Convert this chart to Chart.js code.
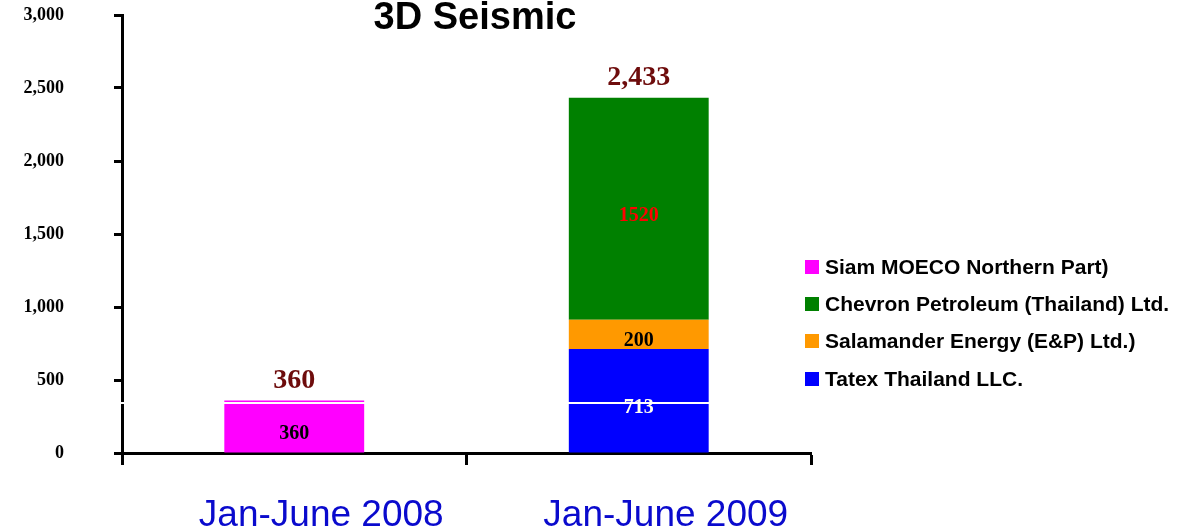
<!DOCTYPE html>
<html>
<head>
<meta charset="utf-8">
<script src="https://cdn.jsdelivr.net/npm/chart.js@4"></script>
<style>
  html, body { margin: 0; padding: 0; background: #fff; }
  #wrap { position: relative; width: 1194px; height: 531px; }
  #legend { position: absolute; left: 805px; top: 248px; font: bold 21px "Liberation Sans", Arial, sans-serif; color: #000; }
  .row { height: 37.3px; display: flex; align-items: center; white-space: nowrap; }
  .sw { width: 14px; height: 14px; margin-right: 6px; flex: none; }
</style>
</head>
<body>
<div id="wrap">
  <canvas id="chart" width="1194" height="531"></canvas>
  <div id="legend"></div>
</div>
<script>
// data
const periods = ["Jan-June 2008", "Jan-June 2009"];
const tatex = [0, 713];
const salamander = [0, 200];
const chevron = [0, 1520];
const siam = [360, 0];
const totals = [360, 2433];
const yTicks = [0, 500, 1000, 1500, 2000, 2500, 3000];

const datasets = [
  { label: "Tatex Thailand LLC.", data: tatex, backgroundColor: "#0000ff", labelColor: "#fffff0" },
  { label: "Salamander Energy (E&P) Ltd.)", data: salamander, backgroundColor: "#ff9900", labelColor: "#000" },
  { label: "Chevron Petroleum (Thailand) Ltd.", data: chevron, backgroundColor: "#008000", labelColor: "#ff0000" },
  { label: "Siam MOECO Northern Part)", data: siam, backgroundColor: "#ff00ff", labelColor: "#000" },
];

// legend, top to bottom is reverse of the stack
const legend = document.getElementById("legend");
datasets.slice().reverse().forEach((ds) => {
  const row = document.createElement("div");
  row.className = "row";
  row.innerHTML = '<span class="sw" style="background:' + ds.backgroundColor + '"></span><span></span>';
  row.lastChild.textContent = ds.label;
  legend.appendChild(row);
});

const barLabels = {
  id: "barLabels",
  afterDatasetsDraw(chart) {
    const ctx = chart.ctx;
    ctx.save();
    ctx.textAlign = "center";
    ctx.textBaseline = "middle";
    ctx.font = "bold 20px 'Liberation Serif', serif";
    chart.data.datasets.forEach((ds, i) => {
      chart.getDatasetMeta(i).data.forEach((bar, j) => {
        const v = ds.data[j];
        if (!v) return;
        ctx.fillStyle = ds.labelColor;
        ctx.fillText(String(v), bar.x, (bar.y + bar.base) / 2 + 7);
      });
    });

    // totals above the stacks
    const y = chart.scales.y;
    ctx.font = "bold 28px 'Liberation Serif', serif";
    ctx.fillStyle = "#6e0c0c";
    totals.forEach((t, j) => {
      const x = chart.getDatasetMeta(0).data[j].x;
      ctx.fillText(t.toLocaleString("en-US"), x, y.getPixelForValue(t) - 20);
    });
    ctx.restore();
  },
  afterDraw(chart) {
    const ctx = chart.ctx;
    ctx.save();
    // thin white line that cuts across the plot in the original
    const ly = Math.round(chart.scales.y.getPixelForValue(342));
    ctx.fillStyle = "#fff";
    ctx.fillRect(110, ly - 1, 702, 2);
    // title
    ctx.font = "bold 38px 'Liberation Sans', Arial, sans-serif";
    ctx.fillStyle = "#000";
    ctx.textAlign = "center";
    ctx.textBaseline = "middle";
    ctx.fillText("3D Seismic", 475, 19);
    ctx.restore();
  },
};

new Chart(document.getElementById("chart"), {
  type: "bar",
  data: {
    labels: periods,
    datasets: datasets,
  },
  options: {
    responsive: false,
    animation: false,
    devicePixelRatio: 1,
    layout: { padding: { top: 15, right: 383, left: 0, bottom: 0 } },
    datasets: { bar: { categoryPercentage: 1, barPercentage: 0.406 } },
    plugins: {
      legend: { display: false },
      title: { display: false },
      tooltip: { enabled: false },
    },
    scales: {
      x: {
        stacked: true,
        grid: { offset: true, drawOnChartArea: false, tickLength: 12, tickWidth: 3, tickColor: "#000" },
        border: { color: "#000", width: 3 },
        ticks: {
          color: "#0a0acd",
          font: { family: "'Liberation Sans', Arial, sans-serif", size: 37 },
          padding: 29,
          labelOffset: 27,
          maxRotation: 0,
        },
        afterFit: (s) => { s.height = 78; },
      },
      y: {
        stacked: true,
        min: 0,
        max: 3000,
        afterBuildTicks: (s) => { s.ticks = yTicks.map((v) => ({ value: v })); },
        grid: { drawOnChartArea: false, tickLength: 8, tickWidth: 3, tickColor: "#000" },
        border: { color: "#000", width: 3 },
        ticks: {
          color: "#000",
          font: { family: "'Liberation Serif', serif", size: 18, weight: "bold" },
          padding: 50,
          callback: (v) => Number(v).toLocaleString("en-US"),
        },
        afterFit: (s) => {
          s.width = 122;
          s.paddingTop = 0;
          s.paddingBottom = 0;
        },
      },
    },
  },
  plugins: [barLabels],
});
</script>
</body>
</html>
